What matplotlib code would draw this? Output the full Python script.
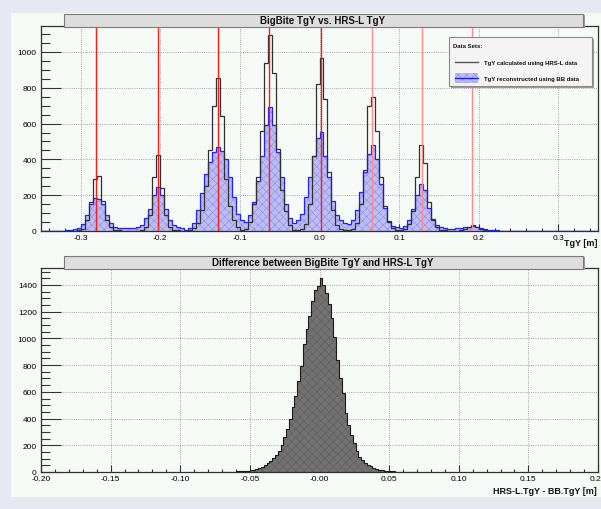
import numpy as np
import matplotlib.pyplot as plt
from matplotlib.patches import Rectangle
from matplotlib.ticker import FixedLocator, MultipleLocator

plt.rcParams['font.family'] = ['Liberation Sans', 'DejaVu Sans']
plt.rcParams['hatch.linewidth'] = 0.4

W, H = 601, 510

# top panel: TgY, bins of 0.005 m from -0.35 to 0.35
tgy_lo, tgy_hi = -0.35, 0.35
hrs_counts = [
    0, 0, 0, 0, 0, 0, 0, 0, 0, 3,
    10, 60, 160, 290, 309, 170, 60, 20, 8, 3,
    1, 0, 0, 0, 1, 5, 25, 90, 300, 425,
    240, 90, 25, 8, 3, 1, 1, 4, 15, 45,
    120, 250, 450, 700, 853, 640, 290, 140, 60, 22,
    6, 10, 50, 150, 300, 560, 940, 1095, 880, 460,
    230, 110, 35, 8, 5, 12, 40, 150, 420, 820,
    965, 740, 330, 120, 35, 10, 3, 3, 12, 45,
    150, 340, 700, 747, 560, 300, 140, 50, 15, 4,
    3, 10, 40, 110, 300, 480, 380, 160, 60, 20,
    8, 3, 1, 1, 2, 5, 12, 25, 33, 20,
    10, 4, 2, 0, 0, 0, 0, 0, 0, 0,
    0, 0, 0, 0, 0, 0, 0, 0, 0, 0,
    0, 0, 0, 0, 0, 0, 0, 0, 0, 0,
]
bb_counts = [
    0, 0, 0, 0, 0, 2, 5, 8, 12, 18,
    40, 90, 150, 183, 178, 150, 90, 45, 22, 15,
    15, 15, 15, 18, 25, 35, 70, 125, 200, 243,
    200, 125, 60, 35, 22, 14, 8, 18, 45, 120,
    215, 320, 385, 440, 467, 445, 400, 300, 190, 95,
    60, 50, 90, 160, 280, 420, 590, 690, 590, 440,
    300, 150, 70, 45, 60, 95, 190, 300, 420, 520,
    555, 420, 300, 170, 90, 60, 45, 40, 60, 120,
    220, 330, 430, 480, 400, 260, 130, 55, 30, 22,
    18, 28, 60, 125, 200, 262, 230, 130, 65, 35,
    20, 15, 12, 12, 14, 16, 20, 24, 26, 22,
    16, 10, 6, 4, 3, 2, 1, 0, 1, 0,
    0, 0, 1, 0, 0, 0, 0, 1, 0, 0,
    0, 0, 0, 0, 0, 0, 0, 0, 0, 0,
]
peak_pos = [-0.2815, -0.2035, -0.1273, -0.0631, 0.0015, 0.0657, 0.1293, 0.1918]
peak_col = ['#ff1a1a'] * 5 + ['#ff8c8c'] * 3

top_xticks = [-0.3, -0.2, -0.1, 0.0, 0.1, 0.2, 0.3]
top_xlabels = ['-0.3', '-0.2', '-0.1', '0.0', '0.1', '0.2', '0.3']

# bottom panel: difference, bins of 0.002 m starting at -0.07
diff_lo, diff_bin = -0.07, 0.002
diff_counts = [
    0, 1, 2, 2, 3, 4, 5, 6, 8, 10, 12, 16, 22, 30, 40, 52, 64, 85, 105, 130,
    160, 200, 260, 320, 400, 490, 570, 680, 790, 960, 1070, 1170, 1280, 1360, 1395,
    1455, 1400, 1340, 1260, 1150, 1010, 840, 700, 590, 440, 350, 280, 215, 160, 115,
    88, 68, 53, 42, 32, 24, 17, 12, 9, 7, 5, 4, 3, 2, 2, 1, 1, 1, 0, 0,
]
bot_xticks = [-0.2, -0.15, -0.1, -0.05, 0.0, 0.05, 0.1, 0.15, 0.2]
bot_xlabels = ['-0.20', '-0.15', '-0.10', '-0.05', '-0.00', '0.05', '0.10', '0.15', '0.20']


def fx(px):
    return px / W


def fy(py):
    return 1 - py / H


fig = plt.figure(figsize=(W / 100, H / 100), dpi=100)
fig.patch.set_facecolor('#e8e8f3')
fig.add_artist(Rectangle((fx(11), fy(498)), fx(601) - fx(11), fy(14) - fy(498),
                         transform=fig.transFigure, facecolor='#f6faf6',
                         edgecolor='none', zorder=-5))

ax1 = fig.add_axes([fx(41), fy(232), fx(598) - fx(41), fy(27) - fy(232)])
ax2 = fig.add_axes([fx(41), fy(473), fx(598) - fx(41), fy(269) - fy(473)])


def style_axis(ax, xminor, yminor):
    ax.set_facecolor('#f6faf6')
    ax.grid(True, color='#8a8a8a', linestyle=(0, (1, 1.6)), linewidth=0.6)
    ax.set_axisbelow(True)
    ax.yaxis.set_major_locator(MultipleLocator(200))
    ax.yaxis.set_minor_locator(MultipleLocator(yminor))
    ax.xaxis.set_minor_locator(MultipleLocator(xminor))
    ax.tick_params(axis='y', which='major', direction='in', length=14.5,
                   width=0.8, labelsize=6, pad=3, color='#333333')
    ax.tick_params(axis='y', which='minor', direction='in', length=6.5,
                   width=0.8, color='#333333')
    ax.tick_params(axis='x', which='major', direction='in', length=5,
                   width=0.8, labelsize=6, pad=2, color='#333333')
    ax.tick_params(axis='x', which='minor', direction='in', length=2.5,
                   width=0.8, color='#333333')
    for s in ax.spines.values():
        s.set_color('#303030')
        s.set_linewidth(0.9)


# top panel
edges = np.linspace(tgy_lo, tgy_hi, len(hrs_counts) + 1)
ax1.stairs(bb_counts, edges, fill=True, facecolor='#bdbdf3', edgecolor='none', zorder=2)
ax1.stairs(bb_counts, edges, fill=True, facecolor='none', edgecolor='#8c8ce8',
           hatch='xxxx', linewidth=0, zorder=2.1)
ax1.stairs(bb_counts, edges, color='#1f1fff', linewidth=0.9, zorder=3)
ax1.stairs(hrs_counts, edges, color='#303030', linewidth=0.9, zorder=4)
for p, c in zip(peak_pos, peak_col):
    ax1.axvline(p, color=c, linewidth=1.0, zorder=5)
ax1.set_xlim(tgy_lo, tgy_hi)
ax1.set_ylim(0, 1145)
style_axis(ax1, 0.02, 50)
ax1.xaxis.set_major_locator(FixedLocator(top_xticks))
ax1.set_xticklabels(top_xlabels)

# bottom panel
dedges = diff_lo + diff_bin * np.arange(len(diff_counts) + 1)
ax2.stairs(diff_counts, dedges, fill=True, facecolor='#727272', edgecolor='none', zorder=2)
ax2.stairs(diff_counts, dedges, fill=True, facecolor='none', edgecolor='#5c5c5c',
           hatch='xxxx', linewidth=0, zorder=2.1)
ax2.stairs(diff_counts, dedges, color='#1a1a1a', linewidth=0.8, zorder=3)
ax2.set_xlim(-0.2, 0.2)
ax2.set_ylim(0, 1527)
style_axis(ax2, 0.01, 50)
ax2.xaxis.set_major_locator(FixedLocator(bot_xticks))
ax2.set_xticklabels(bot_xlabels)

# title boxes
for y0, y1, txt in [(15, 28, 'BigBite TgY vs. HRS-L TgY'),
                    (257, 270, 'Difference between BigBite TgY and HRS-L TgY')]:
    fig.add_artist(Rectangle((fx(65), fy(y1 + 1)), fx(585) - fx(65), fy(y0 + 1) - fy(y1 + 1),
                             transform=fig.transFigure, facecolor='#9a9a9a',
                             edgecolor='none', zorder=9))
    fig.add_artist(Rectangle((fx(64), fy(y1)), fx(583) - fx(64), fy(y0) - fy(y1),
                             transform=fig.transFigure, facecolor='#dcdddc',
                             edgecolor='#7a7a7a', linewidth=0.8, zorder=10))
    fig.text(fx(323), fy((y0 + y1) / 2), txt, ha='center', va='center',
             fontsize=7, fontweight='bold', color='#111111', zorder=11)

# axis titles
fig.text(fx(597), fy(244), 'TgY [m]', ha='right', va='center',
         fontsize=6.5, fontweight='bold', color='#111111')
fig.text(fx(597), fy(492), 'HRS-L.TgY - BB.TgY [m]', ha='right', va='center',
         fontsize=6.5, fontweight='bold', color='#111111')

# legend
fig.add_artist(Rectangle((fx(451), fy(89)), fx(594) - fx(451), fy(40) - fy(89),
                         transform=fig.transFigure, facecolor='#9a9a9a',
                         edgecolor='none', zorder=12))
fig.add_artist(Rectangle((fx(449), fy(87)), fx(592) - fx(449), fy(38) - fy(87),
                         transform=fig.transFigure, facecolor='#f3f4f3',
                         edgecolor='#8a8a8a', linewidth=0.8, zorder=13))
fig.text(fx(453), fy(46), 'Data Sets:', ha='left', va='center',
         fontsize=4.3, fontweight='bold', color='#111111', zorder=14)
fig.add_artist(plt.Line2D([fx(455), fx(478)], [fy(63), fy(63)],
                          transform=fig.transFigure, color='#555555',
                          linewidth=1.0, zorder=14))
fig.text(fx(484), fy(63), 'TgY calculated using HRS-L data', ha='left', va='center',
         fontsize=4.3, fontweight='bold', color='#111111', zorder=14)
fig.add_artist(Rectangle((fx(455), fy(84)), fx(478) - fx(455), fy(74) - fy(84),
                         transform=fig.transFigure, facecolor='#bdbdf3',
                         edgecolor='#8c8ce8', hatch='xxxx', linewidth=0, zorder=14))
fig.add_artist(plt.Line2D([fx(455), fx(478)], [fy(79), fy(79)],
                          transform=fig.transFigure, color='#1f1fff',
                          linewidth=1.0, zorder=15))
fig.text(fx(484), fy(79), 'TgY reconstructed using BB data', ha='left', va='center',
         fontsize=4.3, fontweight='bold', color='#111111', zorder=14)

fig.savefig('out.png', dpi=100, facecolor=fig.get_facecolor())
